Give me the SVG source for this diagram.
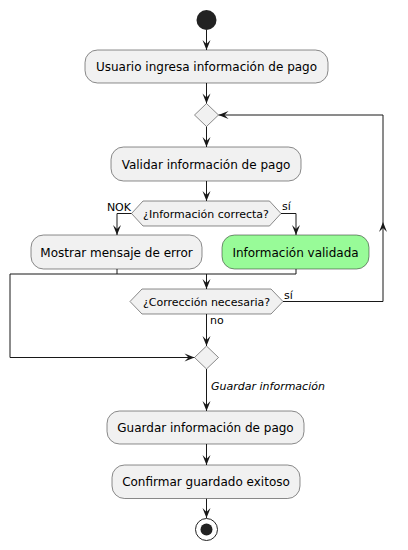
<svg xmlns="http://www.w3.org/2000/svg" width="408" height="550" viewBox="0 0 408 550">
<defs>
<style>
.box{fill:#F1F1F1;stroke:#181818;stroke-width:0.5}
.ok{fill:#98FB98;stroke:#181818;stroke-width:0.5}
.t{font-family:"DejaVu Sans","Liberation Sans",sans-serif;font-size:12px;fill:#000;text-anchor:middle}
.s{font-family:"DejaVu Sans","Liberation Sans",sans-serif;font-size:11px;fill:#000}
.c{fill:none;stroke:#181818;stroke-width:1}
.ca{fill:none;stroke:#181818;stroke-width:1;marker-end:url(#ah)}
</style>
<marker id="ah" markerUnits="userSpaceOnUse" markerWidth="10" markerHeight="8" refX="10" refY="4" orient="auto" overflow="visible">
<path d="M0,0 L10,4 L0,8 L4,4 Z" fill="#181818"/>
</marker>
</defs>
<rect width="408" height="550" fill="#FFFFFF"/>
<g id="connectors">
<path class="ca" d="M206.5,30 V50"/>
<path class="ca" d="M206.5,83 V103.5"/>
<path class="ca" d="M206.5,126.5 V147"/>
<path class="ca" d="M206.5,181 V201"/>
<path class="ca" d="M131.5,213.5 H117 V235"/>
<path class="ca" d="M281,213.5 H296 V235"/>
<path class="c" d="M117,269 V274 M296,269 V274 M10,274 H296"/>
<path class="ca" d="M206.5,274 V289"/>
<path class="ca" d="M283,301.5 H383 V222"/>
<path class="ca" d="M383,222 V115 H218.5"/>
<path class="ca" d="M10,274 V357.5 H194.5"/>
<path class="ca" d="M206.5,314 V346"/>
<path class="ca" d="M206.5,369 V411"/>
<path class="ca" d="M206.5,444 V465"/>
<path class="ca" d="M206.5,498.5 V518"/>
<text class="s" x="131" y="211" text-anchor="end">NOK</text>
<text class="s" x="282" y="210">sí</text>
<text class="s" x="284" y="299">sí</text>
<text class="s" x="210" y="324">no</text>
<text class="s" x="211" y="390" font-style="italic">Guardar información</text>
</g>
<g id="start"><circle cx="206.5" cy="20" r="10" fill="#222222"/></g>
<g id="n1"><rect class="box" x="85" y="50" width="243" height="33" rx="12.5"/><text class="t" x="206.5" y="71">Usuario ingresa información de pago</text></g>
<g id="d1"><polygon class="box" points="194.5,115 206.5,103.5 218.5,115 206.5,126.5"/></g>
<g id="n2"><rect class="box" x="111" y="147" width="190" height="34" rx="12.5"/><text class="t" x="206" y="168.5">Validar información de pago</text></g>
<g id="h1"><polygon class="box" points="131.5,213.5 143,201 269.5,201 281,213.5 269.5,226 143,226"/><text class="s" x="206" y="217.5" text-anchor="middle">¿Información correcta?</text></g>
<g id="n3"><rect class="box" x="31" y="235" width="171" height="34" rx="12.5"/><text class="t" x="116.5" y="256.5">Mostrar mensaje de error</text></g>
<g id="n4"><rect class="ok" x="222" y="235" width="147" height="34" rx="12.5"/><text class="t" x="295.5" y="256.5">Información validada</text></g>
<g id="h2"><polygon class="box" points="130,301.5 142,289 271,289 283,301.5 271,314 142,314"/><text class="s" x="206.5" y="305.5" text-anchor="middle">¿Corrección necesaria?</text></g>
<g id="d3"><polygon class="box" points="194.5,357.5 206.5,346 218.5,357.5 206.5,369"/></g>
<g id="n5"><rect class="box" x="107" y="411" width="197" height="33" rx="12.5"/><text class="t" x="205.5" y="432">Guardar información de pago</text></g>
<g id="n6"><rect class="box" x="112" y="465" width="188" height="33.5" rx="12.5"/><text class="t" x="206" y="486">Confirmar guardado exitoso</text></g>
<g id="end"><circle cx="206.5" cy="529.5" r="11" fill="none" stroke="#222222" stroke-width="1"/><circle cx="206.5" cy="529.5" r="6" fill="#222222"/></g>
</svg>
